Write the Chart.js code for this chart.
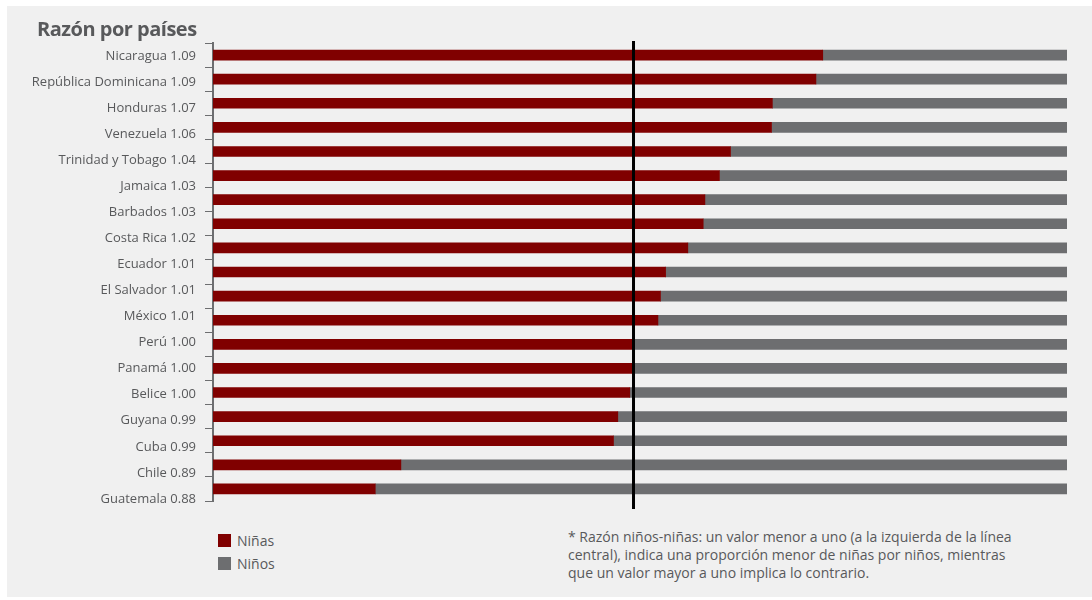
<!DOCTYPE html>
<html>
<head>
<meta charset="utf-8">
<script src="https://cdn.jsdelivr.net/npm/chart.js@4/dist/chart.umd.min.js"></script>
<style>
  html, body { margin: 0; padding: 0; background: #ffffff; }
  body { width: 1092px; height: 600px; position: relative; overflow: hidden; font-family: "Open Sans", "Noto Sans", sans-serif; color: #58595b; }
  #panel { position: absolute; left: 7px; top: 6px; width: 1085px; height: 591px; background: #f0f0f0; }
  #chart { position: absolute; left: 0; top: 0; }
  #title { position: absolute; left: 37px; top: 15px; font-size: 20px; font-weight: 700; color: #58595b; letter-spacing: -0.5px; white-space: nowrap; }
  #legend { position: absolute; left: 218px; top: 529px; font-size: 14px; }
  .lg { display: flex; align-items: center; height: 23px; }
  .sw { width: 13px; height: 13px; margin-right: 6px; }
  #note { position: absolute; left: 568px; top: 528px; font-size: 14px; line-height: 18px; color: #58595b; white-space: nowrap; }
</style>
</head>
<body>
<div id="panel"></div>
<canvas id="chart" width="1092" height="520"></canvas>
<div id="title">Razón por países</div>
<div id="legend"></div>
<div id="note">* Razón niños-niñas: un valor menor a uno (a la izquierda de la línea<br>central), indica una proporción menor de niñas por niños, mientras<br>que un valor mayor a uno implica lo contrario.</div>
<script>
// Axis labels shown on the left (as printed in the source)
const countryLabels = [
  'Nicaragua 1.09', 'República Dominicana 1.09', 'Honduras 1.07', 'Venezuela 1.06',
  'Trinidad y Tobago 1.04', 'Jamaica 1.03', 'Barbados 1.03', 'Costa Rica 1.02',
  'Ecuador 1.01', 'El Salvador 1.01', 'México 1.01', 'Perú 1.00', 'Panamá 1.00',
  'Belice 1.00', 'Guyana 0.99', 'Cuba 0.99', 'Chile 0.89', 'Guatemala 0.88'
];
// Bar rows (the source draws 19 bars)
const barRows = [
  'Fila 1', 'Fila 2', 'Fila 3', 'Fila 4', 'Fila 5', 'Fila 6', 'Fila 7', 'Fila 8',
  'Fila 9', 'Fila 10', 'Fila 11', 'Fila 12', 'Fila 13', 'Fila 14', 'Fila 15',
  'Fila 16', 'Fila 17', 'Fila 18', 'Fila 19'
];
const ninasValues = [71.4, 70.6, 65.5, 65.4, 60.6, 59.3, 57.6, 57.4, 55.6, 53.0, 52.4, 52.1, 49.2, 49.2, 48.8, 47.4, 46.9, 22.0, 19.0];
const ninosValues = [28.6, 29.4, 34.5, 34.6, 39.4, 40.7, 42.4, 42.6, 44.4, 47.0, 47.6, 47.9, 50.8, 50.8, 51.2, 52.6, 53.1, 78.0, 81.0];
// Position of ratio = 1.00 (central line)
const centerLineValue = 49.24;

const RED = '#800000';
const GRAY = '#6d6e70';
const TEXT = '#58595b';

const centerLinePlugin = {
  id: 'centerLine',
  afterDatasetsDraw(chart) {
    const { ctx, chartArea, scales } = chart;
    const x = scales.x.getPixelForValue(centerLineValue);
    ctx.save();
    ctx.strokeStyle = '#000000';
    ctx.lineWidth = 3;
    ctx.beginPath();
    ctx.moveTo(x, chartArea.top - 2);
    ctx.lineTo(x, chartArea.bottom + 8);
    ctx.stroke();
    ctx.restore();
  }
};

const datasets = [
  { label: 'Niñas', data: ninasValues, backgroundColor: RED, barThickness: 10, yAxisID: 'y' },
  { label: 'Niños', data: ninosValues, backgroundColor: GRAY, barThickness: 10, yAxisID: 'y' }
];

const chart = new Chart(document.getElementById('chart'), {
  type: 'bar',
  data: { labels: barRows, datasets },
  options: {
    indexAxis: 'y',
    responsive: false,
    animation: false,
    devicePixelRatio: 1,
    layout: { padding: { left: 0, right: 25, top: 43, bottom: 19 } },
    plugins: { legend: { display: false }, tooltip: { enabled: false }, title: { display: false } },
    scales: {
      x: { stacked: true, min: 0, max: 100, display: false },
      y: {
        stacked: true,
        position: 'left',
        weight: 0,
        offset: true,
        ticks: { display: false },
        grid: { display: true, drawOnChartArea: false, drawTicks: true, tickLength: 8, color: GRAY, lineWidth: 1, offset: true },
        border: { display: true, color: GRAY, width: 2 },
        afterFit(scale) { scale.width = 10; }
      },
      y2: {
        type: 'linear',
        position: 'left',
        weight: 1,
        reverse: true,
        offset: false,
        min: -0.5,
        max: 17.08,
        grid: { display: false, drawTicks: false, offset: false },
        border: { display: false },
        ticks: {
          autoSkip: false,
          padding: 7,
          color: TEXT,
          font: { family: '"Open Sans", "Noto Sans", sans-serif', size: 13 },
          callback: (v) => countryLabels[v]
        },
        afterBuildTicks(scale) { scale.ticks = countryLabels.map((_, i) => ({ value: i })); },
        afterFit(scale) { scale.width = 203; }
      }
    }
  },
  plugins: [centerLinePlugin]
});

// Legend from datasets
const legend = document.getElementById('legend');
datasets.forEach(ds => {
  const row = document.createElement('div');
  row.className = 'lg';
  const sw = document.createElement('span');
  sw.className = 'sw';
  sw.style.background = ds.backgroundColor;
  const tx = document.createElement('span');
  tx.textContent = ds.label;
  row.appendChild(sw);
  row.appendChild(tx);
  legend.appendChild(row);
});
</script>
</body>
</html>
